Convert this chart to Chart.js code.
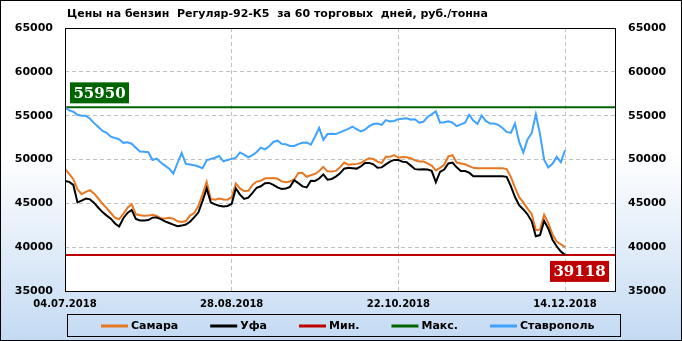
<!DOCTYPE html>
<html>
<head>
<meta charset="utf-8">
<script src="https://cdn.jsdelivr.net/npm/chart.js@4.4.1/dist/chart.umd.min.js"></script>
<style>
html, body { margin: 0; padding: 0; background: #fff; }
#wrap { width: 682px; height: 341px; }
</style>
</head>
<body>
<div id="wrap"><canvas id="fuelChart" width="682" height="341"></canvas></div>
<script>
// prices by trading day, rub/tonne
const samara = [
  48930, 48350, 47750, 46600, 46050, 46300, 46500, 46100, 45550, 44950,
  44450, 43900, 43350, 43200, 43800, 44500, 44900, 43750, 43630, 43580,
  43600, 43700, 43550, 43300, 43280, 43350, 43250, 42950, 42880, 42980,
  43600, 43900, 44700, 46000, 47450, 45500, 45400, 45550, 45450, 45420,
  45700, 47250, 46700, 46400, 46420, 47100, 47480, 47560, 47850, 47850,
  47880, 47800, 47500, 47420, 47500, 47700, 48470, 48470, 48030, 48200,
  48350, 48680, 49160, 48650, 48630, 48700, 49100, 49650, 49400, 49450,
  49500, 49600, 49900, 50150, 50050, 49750, 49600, 50300, 50300, 50500,
  50200, 50280, 50250, 50150, 49900, 49770, 49770, 49550, 49300, 48750,
  49050, 49400, 50350, 50480, 49650, 49550, 49450, 49250, 49050, 49000,
  49000, 49000, 49000, 49000, 49000, 49000, 48900, 48020, 46800, 45700,
  45100, 44400, 43800, 41950, 42000, 43700, 42750, 41450, 40650, 40330,
  40000
];
const ufa = [
  47560, 47450, 47100, 45100, 45300, 45550, 45450, 45050, 44500, 44000,
  43600, 43250, 42700, 42350, 43300, 43900, 44250, 43220, 43050, 43050,
  43090, 43370, 43380, 43200, 42950, 42760, 42570, 42400, 42460, 42580,
  42900, 43400, 43950, 45250, 46700, 45100, 44880, 44720, 44630, 44700,
  44950, 46700, 46000, 45500, 45650, 46200, 46780, 46950, 47300, 47330,
  47100, 46820, 46640, 46700, 46880, 47650, 47300, 46930, 46810, 47580,
  47550, 47830, 48300, 47700, 47780, 48050, 48420, 48950, 49060, 49010,
  48960, 49200, 49600, 49610, 49450, 49050, 49100, 49450, 49750, 49950,
  49950, 49750, 49700, 49300, 48900, 48850, 48900, 48850, 48700, 47415,
  48580, 48860, 49550, 49650, 49100, 48700, 48680, 48500, 48100, 48100,
  48100, 48100, 48100, 48100, 48100, 48100, 48020, 46960, 45720, 44800,
  44300, 43750, 42950, 41250, 41380, 43000, 42100, 40850, 40100, 39500,
  39118
];
const stavropol = [
  55950, 55600, 55450, 55100, 55000, 55000, 54650, 54150, 53700, 53250,
  53050, 52600, 52450, 52300, 51900, 51970, 51800, 51350, 50900, 50870,
  50830, 49950, 50100, 49650, 49300, 48950, 48400, 49600, 50750, 49500,
  49420, 49350, 49200, 49000, 49900, 50070, 50200, 50400, 49800, 49950,
  50070, 50200, 50800, 50550, 50250, 50500, 50850, 51350, 51150, 51500,
  52000, 52150, 51780, 51740, 51550, 51550, 51750, 51900, 51950, 51700,
  52600, 53600, 52250, 52900, 52930, 52900, 53100, 53300, 53500, 53750,
  53450, 53200, 53400, 53800, 54050, 54100, 53950, 54500, 54350, 54400,
  54600, 54650, 54700, 54550, 54600, 54200, 54300, 54850, 55150, 55500,
  54200, 54250, 54350, 54200, 53800, 54000, 54200, 55100, 54450, 54050,
  55000, 54400, 54100, 54100, 53950, 53600, 53150, 53030, 54100, 52000,
  50800, 52300, 53000, 55160, 52900, 49950, 49100, 49500, 50300, 49700,
  51060
];
const minPrice = 39118;
const maxPrice = 55950;
const tickIndex = [0, 40, 80, 120];
const tickLabels = ["04.07.2018", "28.08.2018", "22.10.2018", "14.12.2018"];
const xEnd = 132;
const chartTitle = "Цены на бензин  Регуляр-92-К5  за 60 торговых  дней, руб./тонна";

const pts = arr => arr.map((v, i) => ({ x: i, y: v }));
const flat = v => [{ x: 0, y: v }, { x: xEnd, y: v }];

Chart.defaults.font.family = '"DejaVu Sans", Verdana, sans-serif';

function badge(ctx, text, x, y, right, color) {
  ctx.font = 'bold 15px "DejaVu Serif", serif';
  const w = Math.ceil(ctx.measureText(text).width) + 6;
  const h = 21;
  const left = right ? x - w : x;
  ctx.fillStyle = color;
  ctx.fillRect(left, y, w, h);
  ctx.fillStyle = '#fff';
  ctx.textAlign = 'center';
  ctx.textBaseline = 'middle';
  ctx.fillText(text, left + w / 2, y + h / 2 + 1);
}

const decor = {
  id: 'decor',
  beforeDraw(chart) {
    const { ctx, chartArea: a, width, height } = chart;
    ctx.save();
    const g = ctx.createLinearGradient(0, 0, 0, height);
    g.addColorStop(0, '#ffffff');
    g.addColorStop(0.45, '#ffffff');
    g.addColorStop(1, '#c4daf3');
    ctx.fillStyle = g;
    ctx.fillRect(0, 0, width, height);
    ctx.fillStyle = '#ffffff';
    ctx.fillRect(a.left, a.top, a.right - a.left, a.bottom - a.top);
    ctx.restore();
  },
  afterDraw(chart) {
    const { ctx, chartArea: a, width, height } = chart;
    const y = chart.scales.y;
    ctx.save();

    // plot frame
    ctx.strokeStyle = '#000';
    ctx.lineWidth = 1;
    ctx.strokeRect(Math.round(a.left) + 0.5, Math.round(a.top) + 0.5,
      Math.round(a.right - a.left), Math.round(a.bottom - a.top));

    // title
    ctx.fillStyle = '#000';
    ctx.font = 'bold 11px "DejaVu Sans", sans-serif';
    ctx.textAlign = 'left';
    ctx.textBaseline = 'middle';
    ctx.fillText(chartTitle, a.left + 2, 14);

    // max / min value tags
    const yMax = y.getPixelForValue(maxPrice);
    const yMin = y.getPixelForValue(minPrice);
    badge(ctx, String(maxPrice), a.left + 5, yMax - 25, false, '#006400');
    badge(ctx, String(minPrice), a.right - 6, yMin + 6, true, '#c00000');

    // legend box
    ctx.strokeStyle = '#000';
    ctx.lineWidth = 1;
    ctx.strokeRect(67.5, 314.5, 553, 22);
    ctx.font = 'bold 11px "DejaVu Sans", sans-serif';
    ctx.textAlign = 'left';
    ctx.textBaseline = 'middle';
    let lx = 101;
    const ly = 326;
    chart.data.datasets.forEach(ds => {
      ctx.strokeStyle = ds.borderColor;
      ctx.lineWidth = 3;
      ctx.beginPath();
      ctx.moveTo(lx, ly);
      ctx.lineTo(lx + 27, ly);
      ctx.stroke();
      ctx.fillStyle = '#000';
      ctx.fillText(ds.label, lx + 30, ly);
      lx += 30 + ctx.measureText(ds.label).width + 32;
    });

    // outer border
    ctx.strokeStyle = '#000';
    ctx.lineWidth = 1;
    ctx.strokeRect(0.5, 0.5, width - 1, height - 1);
    ctx.restore();
  }
};

const line = (label, data, color, width, order) => ({
  label, data, borderColor: color, backgroundColor: color,
  borderWidth: width, pointRadius: 0, tension: 0, order
});

const tickFont = { size: 11, weight: 'bold' };

new Chart(document.getElementById('fuelChart'), {
  type: 'line',
  data: {
    datasets: [
      line('Самара', pts(samara), '#e87722', 2, 2),
      line('Уфа', pts(ufa), '#000000', 2, 1),
      line('Мин.', flat(minPrice), '#c00000', 2, 3),
      line('Макс.', flat(maxPrice), '#006400', 2, 3),
      line('Ставрополь', pts(stavropol), '#3fa2ff', 2, 2)
    ]
  },
  options: {
    responsive: false,
    animation: false,
    devicePixelRatio: 1,
    layout: { padding: { top: 28, left: 0, right: 0, bottom: 0 } },
    plugins: { legend: { display: false }, title: { display: false }, tooltip: { enabled: false } },
    scales: {
      x: {
        type: 'linear', min: 0, max: xEnd,
        afterBuildTicks: axis => { axis.ticks = tickIndex.map(v => ({ value: v })); },
        afterFit: axis => { axis.height = 50; },
        ticks: {
          autoSkip: false, maxRotation: 0, padding: 7, color: '#000',
          font: { size: 10, weight: 'bold' },
          callback: (v, i) => tickLabels[i]
        },
        grid: { color: '#c0c0c0', drawTicks: false },
        border: { display: false, dash: [4, 3] }
      },
      y: {
        min: 35000, max: 65000,
        afterFit: axis => { axis.width = 65; },
        ticks: { stepSize: 5000, padding: 12, color: '#000', font: tickFont, callback: v => String(v) },
        grid: { color: '#c0c0c0', drawTicks: false },
        border: { display: false, dash: [4, 3] }
      },
      y2: {
        position: 'right', min: 35000, max: 65000,
        afterFit: axis => { axis.width = 67; },
        ticks: { stepSize: 5000, padding: 13, color: '#000', font: tickFont, callback: v => String(v) },
        grid: { display: false, drawTicks: false },
        border: { display: false }
      }
    }
  },
  plugins: [decor]
});
</script>
</body>
</html>
